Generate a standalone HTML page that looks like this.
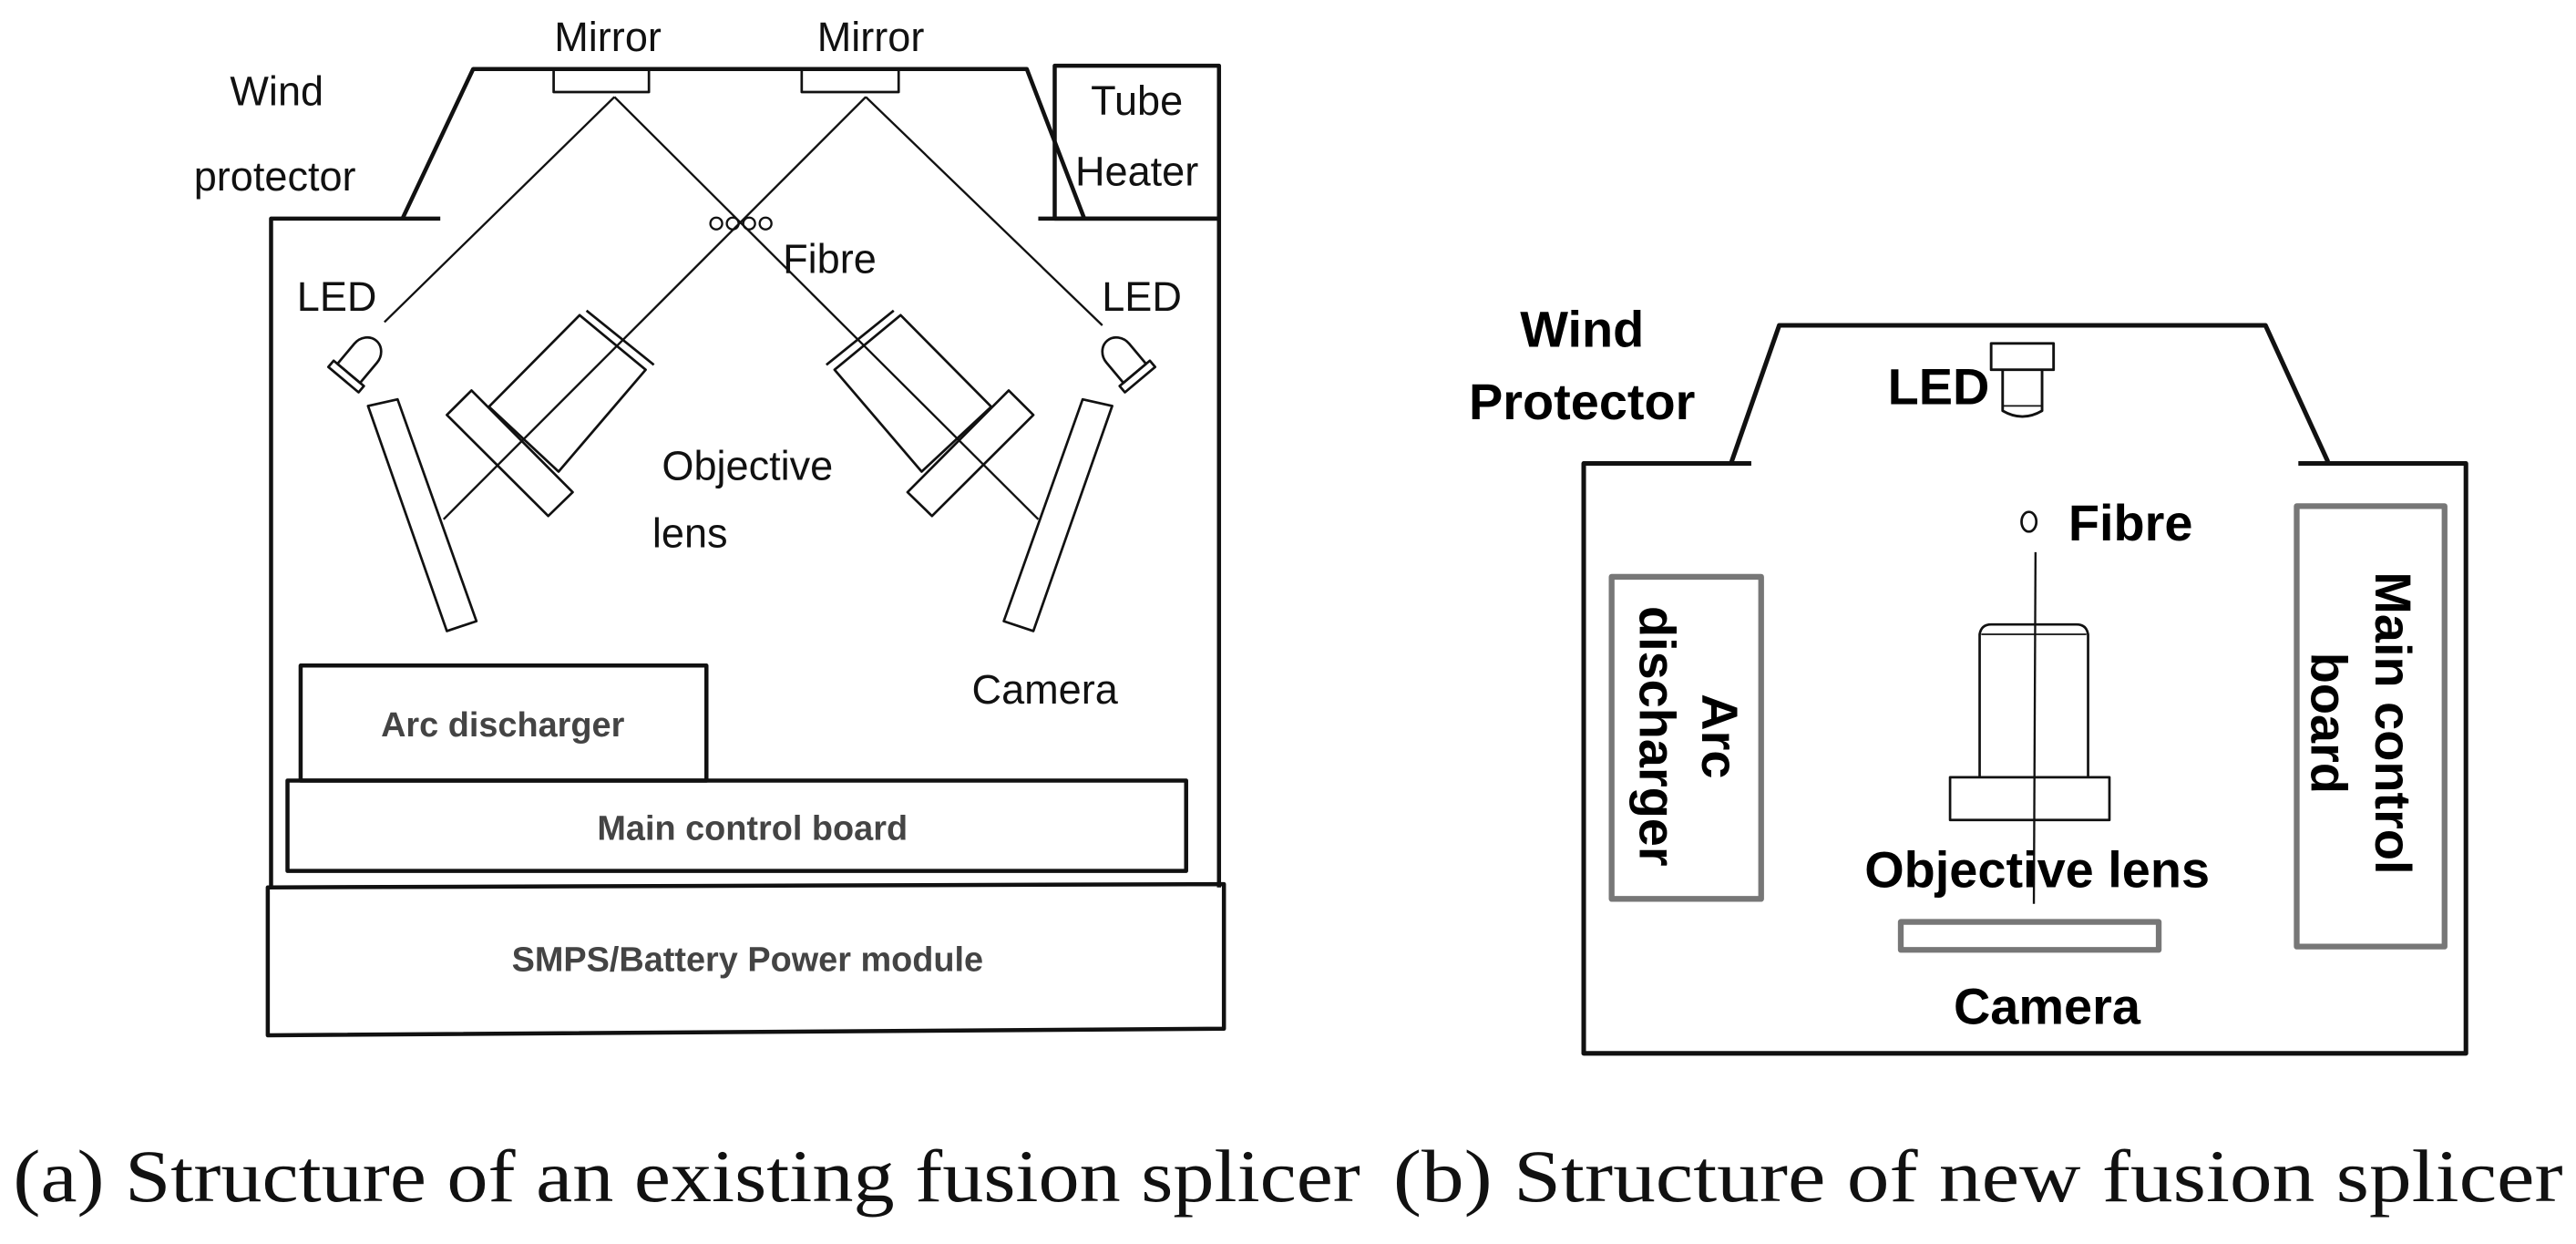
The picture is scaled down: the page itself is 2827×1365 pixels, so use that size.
<!DOCTYPE html>
<html><head><meta charset="utf-8"><style>html,body{margin:0;padding:0;background:#fff}svg{display:block}</style></head>
<body>
<svg width="2827" height="1365" viewBox="0 0 1568 757" preserveAspectRatio="none" xmlns="http://www.w3.org/2000/svg">
<rect width="1568" height="757" fill="#fff"/>
<g fill="none" stroke="#111" stroke-linejoin="round">
<polyline points="165,540 165,133 268,133" stroke-width="2.5"/>
<polyline points="245,133 288,42 625,42 660,133" stroke-width="2.5"/>
<line x1="632" y1="133" x2="742" y2="133" stroke-width="2.5"/>
<line x1="742" y1="133" x2="742" y2="540" stroke-width="2.5"/>
<rect x="642" y="40" width="100" height="93" stroke-width="2.5"/>
<rect x="337" y="42" width="58" height="14" stroke-width="1.5"/>
<rect x="488" y="42" width="59" height="14" stroke-width="1.5"/>
<g stroke-width="1.3">
<line x1="374" y1="59" x2="234" y2="196"/>
<line x1="374" y1="59" x2="632" y2="316"/>
<line x1="527" y1="59" x2="270" y2="316"/>
<line x1="527" y1="59" x2="671" y2="198"/>
</g>
<g stroke-width="1.3">
<circle cx="436" cy="136" r="3.6"/><circle cx="446" cy="136" r="3.6"/><circle cx="456" cy="136" r="3.6"/><circle cx="466" cy="136" r="3.6"/>
</g>
<g stroke-width="1.5">
<polygon points="297.6,247.5 352.8,191.8 393,225 340,287"/>
<line x1="357" y1="189" x2="398" y2="222"/>
<polygon points="272,252.5 287,237.6 348.6,299.5 333.7,314"/>
</g>
<g stroke-width="1.5" transform="translate(901,0) scale(-1,1)">
<polygon points="297.6,247.5 352.8,191.8 393,225 340,287"/>
<line x1="357" y1="189" x2="398" y2="222"/>
<polygon points="272,252.5 287,237.6 348.6,299.5 333.7,314"/>
</g>
<g stroke-width="1.5" transform="translate(220,218) rotate(40)">
<path d="M-9,12 L-9,-4 A9,10 0 0 1 9,-4 L9,12 Z"/>
<rect x="-12" y="12" width="24" height="5"/>
</g>
<g stroke-width="1.5" transform="translate(683,218) rotate(-40)">
<path d="M-9,12 L-9,-4 A9,10 0 0 1 9,-4 L9,12 Z"/>
<rect x="-12" y="12" width="24" height="5"/>
</g>
<g stroke-width="1.5">
<polygon points="224,247 242,243 290,378 272,384"/>
<polygon points="677,247 659,243 611,378 629,384"/>
</g>
<rect x="183" y="405" width="247" height="70" stroke-width="2.5"/>
<rect x="175" y="475" width="547" height="55" stroke-width="2.5"/>
<polygon points="163,540 745,538 745,626 163,630" stroke-width="2.5"/>

<polyline points="1066,282 964,282 964,641 1501,641 1501,282 1399,282" stroke-width="2.8"/>
<polyline points="1054,281 1083,198 1379,198 1417,281" stroke-width="2.8"/>
<rect x="1212" y="209" width="38" height="16" stroke-width="1.6"/>
<path d="M1219,225 L1219,250 Q1231,257 1243,250 L1243,225" stroke-width="1.6"/>
<line x1="1219" y1="247" x2="1243" y2="247" stroke-width="1"/>
<ellipse cx="1235" cy="317.5" rx="4.5" ry="6" stroke-width="1.5"/>
<line x1="1239" y1="336" x2="1238" y2="550" stroke-width="1.3"/>
<path d="M1205,473 L1205,386 Q1206,380 1212,380 L1264,380 Q1270,380 1271,386 L1271,473" stroke-width="1.5"/>
<line x1="1206" y1="386" x2="1270" y2="386" stroke-width="1"/>
<rect x="1187" y="473" width="97" height="26" stroke-width="1.5"/>
<g stroke="#777" stroke-width="3.5">
<rect x="1157" y="561" width="157" height="17"/>
<rect x="981" y="351" width="91" height="196"/>
<rect x="1398" y="308" width="90" height="268"/>
</g>
</g>

<g font-family="'Liberation Sans',sans-serif" fill="#111" font-size="25">
<text x="140" y="64">Wind</text>
<text x="118" y="116">protector</text>
<text x="370" y="31" text-anchor="middle">Mirror</text>
<text x="530" y="31" text-anchor="middle">Mirror</text>
<text x="692" y="70" text-anchor="middle">Tube</text>
<text x="692" y="113" text-anchor="middle">Heater</text>
<text x="205" y="189" text-anchor="middle">LED</text>
<text x="695" y="189" text-anchor="middle">LED</text>
<text x="505" y="166" text-anchor="middle">Fibre</text>
<text x="455" y="292" text-anchor="middle">Objective</text>
<text x="420" y="333" text-anchor="middle">lens</text>
<text x="636" y="428" text-anchor="middle">Camera</text>
</g>
<g font-family="'Liberation Sans',sans-serif" fill="#444" font-weight="bold" font-size="21">
<text x="306" y="448" text-anchor="middle">Arc discharger</text>
<text x="458" y="511" text-anchor="middle">Main control board</text>
<text x="455" y="591" text-anchor="middle">SMPS/Battery Power module</text>
</g>
<g font-family="'Liberation Sans',sans-serif" fill="#000" font-weight="bold" font-size="31">
<text x="963" y="211" text-anchor="middle">Wind</text>
<text x="963" y="255" text-anchor="middle">Protector</text>
<text x="1180" y="246" text-anchor="middle">LED</text>
<text x="1259" y="329">Fibre</text>
<text x="1240" y="540" text-anchor="middle">Objective lens</text>
<text x="1246" y="623" text-anchor="middle">Camera</text>
<g transform="translate(1026,448) rotate(90)" text-anchor="middle">
<text x="0" y="-10">Arc</text>
<text x="0" y="28">discharger</text>
</g>
<g transform="translate(1443,440) rotate(90)" text-anchor="middle">
<text x="0" y="-3">Main control</text>
<text x="0" y="36">board</text>
</g>
</g>
<g font-family="'Liberation Serif',serif" fill="#111" font-size="45">
<text x="8" y="731" textLength="820" lengthAdjust="spacingAndGlyphs">(a) Structure of an existing fusion splicer</text>
<text x="848" y="731" textLength="712" lengthAdjust="spacingAndGlyphs">(b) Structure of new fusion splicer</text>
</g>
</svg>
</body></html>
